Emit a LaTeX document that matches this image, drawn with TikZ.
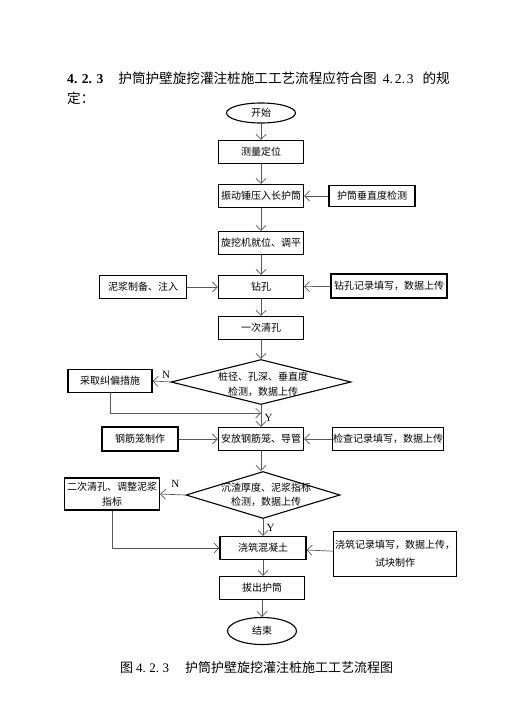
\documentclass[tikz,border=0pt]{standalone}
\usepackage{fontspec}
\setmainfont{Liberation Serif}
\newfontfamily\cjk{Noto Sans CJK SC}
\usetikzlibrary{shapes,arrows.meta,positioning,calc}

\tikzset{
  stepbox/.style={draw, line width=1.1pt, minimum width=85pt, minimum height=23pt,
    inner sep=0pt, align=center, font=\cjk\fontsize{10}{15}\selectfont},
  term/.style={ellipse, draw, line width=1.1pt, minimum width=69pt, inner sep=0pt,
    font=\cjk\fontsize{10}{12}\selectfont},
  chk/.style={diamond, draw, line width=1.1pt, inner sep=0pt},
  chktext/.style={align=center, font=\cjk\fontsize{10}{15}\selectfont},
  flow/.style={draw=black!65, line width=0.7pt, -{Straight Barb[length=5pt,width=10pt]}},
  yn/.style={font=\fontsize{11}{12}\selectfont}
}

\begin{document}
\begin{tikzpicture}[x=1pt, y=-1pt]
    \useasboundingbox (0,0) rectangle (530,704);

    % Heading
    \node[anchor=west, inner sep=0pt, font=\fontsize{13.6}{16}\selectfont] (head) at (67,78)
      {\textbf{4.\hspace{4.5pt}2.\hspace{4.5pt}3}\hspace{15pt}{\cjk 护筒护壁旋挖灌注桩施工工艺流程应符合图}\hspace{6pt}4.\hspace{1.8pt}2.\hspace{1.8pt}3\hspace{9pt}{\cjk 的规}};
    \node[anchor=west, inner sep=0pt, font=\cjk\fontsize{13.6}{16}\selectfont] (head2) at (67,98) {定：};

    % Main column
    \node[term, minimum height=20pt] (start) at (261,113) {开始};
    \node[stepbox] (s1) at (261,152) {测量定位};
    \node[stepbox] (s2) at (261,196) {振动锤压入长护筒};
    \node[stepbox] (s3) at (261,243) {旋挖机就位、调平};
    \node[stepbox] (s4) at (261,287) {钻孔};
    \node[stepbox] (s5) at (261,328) {一次清孔};
    \node[chk, minimum width=180pt, minimum height=45pt] (d1) at (261,382) {};
    \node[chktext] (d1t) at (263,384) {桩径、孔深、垂直度\\检测，数据上传};
    \node[stepbox] (s6) at (261,439) {安放钢筋笼、导管};
    \node[chk, minimum width=154pt, minimum height=47pt] (d2) at (263,495) {};
    \node[chktext, font=\cjk\fontsize{10}{14}\selectfont] (d2t) at (266,495) {沉渣厚度、泥浆指标\\检测，数据上传};
    \node[stepbox, minimum width=86pt] (s7) at (263,548) {浇筑混凝土};
    \node[stepbox] (s8) at (262,588) {拔出护筒};
    \node[term, minimum height=27pt] (stop) at (262,631) {结束};

    % Side boxes
    \node[stepbox, minimum width=86pt, minimum height=21pt] (vert) at (372,196) {护筒垂直度检测};
    \node[stepbox, minimum width=87pt] (mud) at (143,287) {泥浆制备、注入};
    \node[stepbox, minimum width=116pt, minimum height=24pt] (rec1) at (389,286) {钻孔记录填写，数据上传};
    \node[stepbox, minimum width=84pt] (fix1) at (110,381) {采取纠偏措施};
    \node[stepbox, minimum width=76pt, minimum height=24pt] (cage) at (140,439) {钢筋笼制作};
    \node[stepbox, minimum width=111pt] (rec2) at (388,439) {检查记录填写，数据上传};
    \node[stepbox, minimum width=95pt, minimum height=32pt] (fix2) at (112,494) {二次清孔、调整泥浆\\指标};
    \node[stepbox, minimum width=123pt, minimum height=45pt, font=\cjk\fontsize{10}{18}\selectfont] (rec3) at (395,554) {浇筑记录填写，数据上传，\\试块制作};

    % Joins
    \coordinate (j1) at (d1.south |- 0,413);

    % Arrows
    \draw[flow] (start) -- (s1);
    \draw[flow] (s1) -- (s2);
    \draw[flow] (vert) -- (s2);
    \draw[flow] (s2) -- (s3);
    \draw[flow] (s3) -- (s4);
    \draw[flow] (mud) -- (s4);
    \draw[flow] (rec1) -- (s4);
    \draw[flow] (s4) -- (s5);
    \draw[flow] (s5) -- (d1);
    \draw[flow] (d1.west) -- (fix1.east) node[yn, pos=0.25, above] {N};
    \draw[flow] (fix1.south) |- (j1);
    \draw[flow] (d1.south) -- (s6) node[yn, pos=0.6, right] {Y};
    \draw[flow] (cage) -- (s6);
    \draw[flow] (rec2) -- (s6);
    \draw[flow] (s6.south) -- (s6.south |- d2.north);
    \draw[flow] (d2.west) -- (fix2.east) node[yn, pos=0.4, above=3pt] {N};
    \draw[flow] (fix2.south) |- (s7.west);
    \draw[flow] (d2.south) -- (s7) node[yn, pos=0.55, right] {Y};
    \draw[flow] (rec3) -- (s7);
    \draw[flow] (s7.south) -- (s7.south |- s8.north);
    \draw[flow] (s8) -- (stop);

    % Caption
    \node[anchor=west, inner sep=0pt, font=\fontsize{13}{16}\selectfont] (cap) at (120,668)
      {{\cjk 图}\hspace{3pt}4.\hspace{3.5pt}2.\hspace{3.5pt}3\hspace{16pt}{\cjk 护筒护壁旋挖灌注桩施工工艺流程图}};
\end{tikzpicture}
\end{document}
